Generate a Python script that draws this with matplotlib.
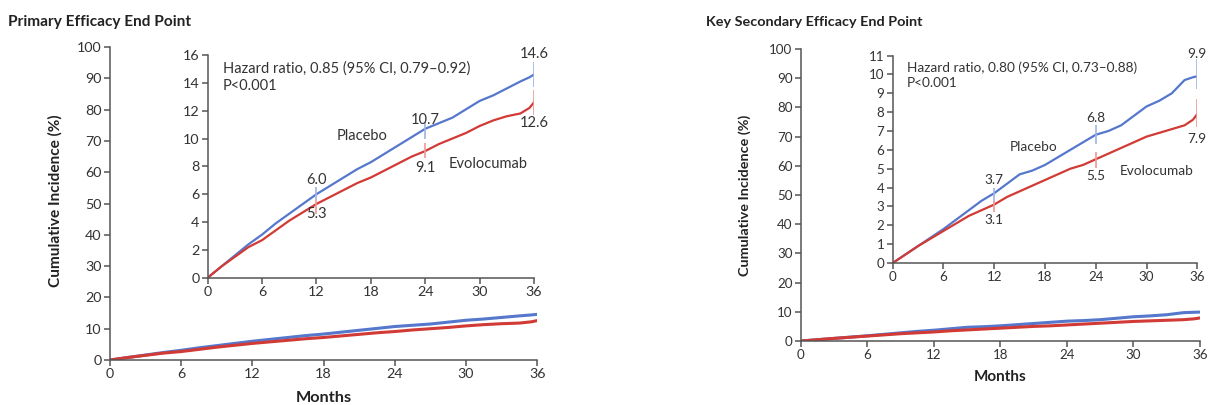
import numpy as np
import matplotlib
matplotlib.use("Agg")
import matplotlib.pyplot as plt

plt.rcParams['font.family'] = ['Lato', 'DejaVu Sans']

# months at which curves were read
months = [0, 1.5, 3, 4.5, 6, 7.5, 9, 10.5, 12, 13.5, 15, 16.5, 18, 19.5, 21, 22.5,
          24, 25.5, 27, 28.5, 30, 31.5, 33, 34.5, 35.5, 36]

# primary end point (%)
prim_placebo = [0, 0.8, 1.6, 2.4, 3.1, 3.9, 4.6, 5.3, 6.0, 6.6, 7.2, 7.8, 8.3, 8.9, 9.5, 10.1,
                10.7, 11.1, 11.5, 12.1, 12.7, 13.1, 13.6, 14.1, 14.4, 14.6]
prim_evolo = [0, 0.8, 1.5, 2.2, 2.7, 3.4, 4.1, 4.7, 5.3, 5.8, 6.3, 6.8, 7.2, 7.7, 8.2, 8.7,
              9.1, 9.6, 10.0, 10.4, 10.9, 11.3, 11.6, 11.8, 12.2, 12.6]
# key secondary end point (%)
sec_placebo = [0, 0.45, 0.9, 1.35, 1.8, 2.3, 2.8, 3.3, 3.7, 4.2, 4.7, 4.9, 5.2, 5.6, 6.0, 6.4,
               6.8, 7.0, 7.3, 7.8, 8.3, 8.6, 9.0, 9.7, 9.85, 9.9]
sec_evolo = [0, 0.45, 0.9, 1.3, 1.7, 2.1, 2.5, 2.8, 3.1, 3.5, 3.8, 4.1, 4.4, 4.7, 5.0, 5.2,
             5.5, 5.8, 6.1, 6.4, 6.7, 6.9, 7.1, 7.3, 7.6, 7.9]

ci_months = [12, 24, 36]
prim_pl_ci = [(5.6, 6.5), (10.0, 11.2), (13.7, 15.5)]
prim_ev_ci = [(4.6, 5.6), (8.6, 9.65), (11.7, 13.5)]
sec_pl_ci = [(3.2, 4.0), (6.3, 7.3), (9.2, 10.8)]
sec_ev_ci = [(2.7, 3.3), (5.05, 5.9), (7.2, 8.7)]

prim_pl_lab = ['6.0', '10.7', '14.6']
prim_ev_lab = ['5.3', '9.1', '12.6']
sec_pl_lab = ['3.7', '6.8', '9.9']
sec_ev_lab = ['3.1', '5.5', '7.9']

blue = '#5577cc'
red = '#d23a35'
light_blue = '#9db4e6'
light_red = '#ec9a96'
gray = '#555555'
txt = '#333333'


def style(ax, fs=10):
    for s in ['top', 'right']:
        ax.spines[s].set_visible(False)
    for s in ['left', 'bottom']:
        ax.spines[s].set_color(gray)
        ax.spines[s].set_linewidth(1.1)
    ax.tick_params(colors=gray, labelcolor=txt, labelsize=fs, length=4, width=1.1, pad=2)
    ax.set_xlim(0, 36)
    ax.set_xticks(range(0, 37, 6))
    ax.patch.set_alpha(0)


fig = plt.figure(figsize=(12.09, 4.05), dpi=100)

panels = [
    dict(main=[0.0910, 0.1111, 0.3534, 0.7728], inset=[0.1718, 0.3143, 0.2699, 0.5499],
         pl=prim_placebo, ev=prim_evolo, plci=prim_pl_ci, evci=prim_ev_ci,
         pll=prim_pl_lab, evl=prim_ev_lab, ymax=16, ystep=2,
         title='Primary Efficacy End Point', tx=0.007, fs=10.5, tfs=10.3,
         hr='Hazard ratio, 0.85 (95% CI, 0.79\u20130.92)\nP<0.001',
         plpos=(14.2, 10.15), evpos=(26.6, 8.15),
         pl_y=[7.0, 11.35, 16.1], ev_y=[4.6, 7.85, 11.15],
         ylab=(-0.129, 0.51), xlab=(0.5, -0.121)),
    dict(main=[0.6625, 0.1580, 0.3300, 0.7210], inset=[0.7384, 0.3506, 0.2519, 0.5123],
         pl=sec_placebo, ev=sec_evolo, plci=sec_pl_ci, evci=sec_ev_ci,
         pll=sec_pl_lab, evl=sec_ev_lab, ymax=11, ystep=1,
         title='Key Secondary Efficacy End Point', tx=0.584, fs=9.8, tfs=9.6,
         hr='Hazard ratio, 0.80 (95% CI, 0.73\u20130.88)\nP<0.001',
         plpos=(13.8, 6.15), evpos=(26.8, 4.9),
         pl_y=[4.4, 7.7, 11.1], ev_y=[2.3, 4.6, 6.6],
         ylab=(-0.14, 0.50), xlab=(0.5, -0.122)),
]

for p in panels:
    fs = p['fs']
    fig.text(p['tx'], 0.945, p['title'], fontsize=fs + 0.6, fontweight='bold',
             color='#222222', ha='left', va='center')

    ax = fig.add_axes(p['main'])
    style(ax, fs=p['tfs'])
    ax.plot(months, p['pl'], color=blue, lw=2.2, solid_joinstyle='round')
    ax.plot(months, p['ev'], color=red, lw=2.2, solid_joinstyle='round')
    ax.set_ylim(0, 100)
    ax.set_yticks(range(0, 101, 10))
    ax.set_xlabel('Months', fontsize=fs + 1.2, fontweight='bold', color='#222222',
                  va='center')
    ax.xaxis.set_label_coords(*p['xlab'])
    ax.set_ylabel('Cumulative Incidence (%)', fontsize=fs + 0.6, fontweight='bold',
                  color='#222222', va='center')
    ax.yaxis.set_label_coords(*p['ylab'])

    ins = fig.add_axes(p['inset'])
    style(ins, fs=p['tfs'])
    ins.plot(months, p['pl'], color=blue, lw=1.6)
    ins.plot(months, p['ev'], color=red, lw=1.6)
    ins.set_ylim(0, p['ymax'])
    ins.set_yticks(np.arange(0, p['ymax'] + 1, p['ystep']))
    for i, m in enumerate(ci_months):
        ins.vlines(m, *p['plci'][i], color=light_blue, lw=1.2)
        ins.vlines(m, *p['evci'][i], color=light_red, lw=1.2)
        ins.text(m, p['pl_y'][i], p['pll'][i], ha='center', va='center',
                 fontsize=fs, color=txt, clip_on=False)
        ins.text(m, p['ev_y'][i], p['evl'][i], ha='center', va='center',
                 fontsize=fs, color=txt, clip_on=False)
    ins.text(0.046, 0.97, p['hr'], transform=ins.transAxes, ha='left', va='top',
             fontsize=fs, color=txt, linespacing=1.25)
    ins.text(*p['plpos'], 'Placebo', ha='left', va='center', fontsize=fs, color=txt)
    ins.text(*p['evpos'], 'Evolocumab', ha='left', va='center', fontsize=fs, color=txt)

fig.savefig('out.png', dpi=100)
